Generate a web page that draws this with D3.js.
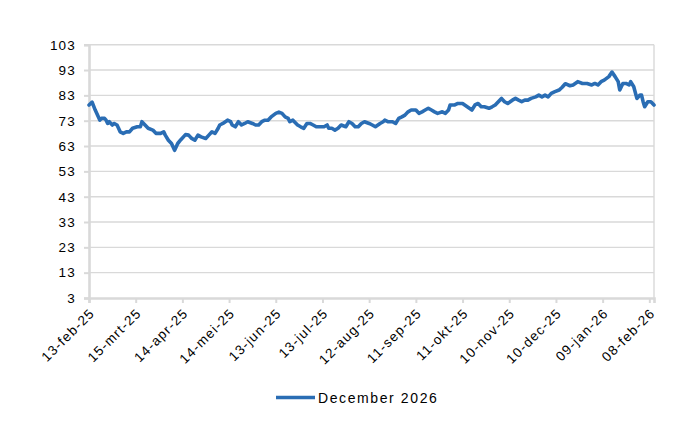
<!DOCTYPE html>
<html>
<head>
<meta charset="utf-8">
<script src="https://cdn.jsdelivr.net/npm/d3@7"></script>
<style>
  html, body { margin: 0; padding: 0; background: #fff; }
  svg text { font-family: "Liberation Sans", Arial, sans-serif; fill: #000; }
</style>
</head>
<body>
<svg id="chart" width="700" height="430"></svg>
<script>
const dates = ["2025-02-13","2025-02-15","2025-02-17","2025-02-20","2025-02-21","2025-02-23","2025-02-24","2025-02-25","2025-02-26","2025-02-28",
"2025-03-01","2025-03-03","2025-03-04","2025-03-05","2025-03-07","2025-03-09","2025-03-11","2025-03-13","2025-03-16","2025-03-18",
"2025-03-19","2025-03-21","2025-03-23","2025-03-26","2025-03-28","2025-03-31","2025-04-02","2025-04-03","2025-04-05","2025-04-07",
"2025-04-09","2025-04-11","2025-04-13","2025-04-16","2025-04-18","2025-04-20","2025-04-22","2025-04-24","2025-04-26","2025-04-29",
"2025-05-01","2025-05-03","2025-05-05","2025-05-07","2025-05-08","2025-05-10","2025-05-13","2025-05-15","2025-05-16","2025-05-18",
"2025-05-20","2025-05-22","2025-05-24","2025-05-26","2025-05-29","2025-05-31","2025-06-02","2025-06-04","2025-06-06","2025-06-08",
"2025-06-10","2025-06-13","2025-06-15","2025-06-17","2025-06-19","2025-06-21","2025-06-22","2025-06-24","2025-06-27","2025-06-29",
"2025-07-01","2025-07-03","2025-07-05","2025-07-07","2025-07-09","2025-07-11","2025-07-14","2025-07-16","2025-07-17","2025-07-19",
"2025-07-21","2025-07-23","2025-07-25","2025-07-28","2025-07-30","2025-08-01","2025-08-03","2025-08-05","2025-08-07","2025-08-09",
"2025-08-12","2025-08-14","2025-08-16","2025-08-19","2025-08-21","2025-08-22","2025-08-24","2025-08-27","2025-08-29","2025-08-31",
"2025-09-02","2025-09-04","2025-09-06","2025-09-08","2025-09-11","2025-09-13","2025-09-15","2025-09-17","2025-09-19","2025-09-21",
"2025-09-23","2025-09-25","2025-09-28","2025-09-30","2025-10-02","2025-10-03","2025-10-06","2025-10-08","2025-10-11","2025-10-14",
"2025-10-17","2025-10-19","2025-10-21","2025-10-23","2025-10-25","2025-10-28","2025-10-30","2025-11-01","2025-11-03","2025-11-05",
"2025-11-07","2025-11-09","2025-11-12","2025-11-14","2025-11-16","2025-11-18","2025-11-20","2025-11-22","2025-11-24","2025-11-27",
"2025-11-29","2025-12-01","2025-12-03","2025-12-05","2025-12-07","2025-12-09","2025-12-12","2025-12-14","2025-12-16","2025-12-19",
"2025-12-21","2025-12-24","2025-12-27","2025-12-30","2026-01-02","2026-01-04","2026-01-06","2026-01-08","2026-01-10","2026-01-13",
"2026-01-15","2026-01-17","2026-01-19","2026-01-20","2026-01-22","2026-01-24","2026-01-26","2026-01-27","2026-01-29","2026-01-31",
"2026-02-02","2026-02-03","2026-02-04","2026-02-05","2026-02-07","2026-02-09","2026-02-11"];

const values = [79.2,80.3,77.2,73.2,73.9,73.9,73.2,71.9,72.6,71.3,
71.9,71.3,70.0,68.6,68.0,68.6,68.6,70.0,70.6,70.6,
72.6,71.3,70.0,69.3,68.0,68.0,68.6,67.3,65.3,64.0,
61.3,64.0,65.5,67.5,67.3,66.0,65.3,67.3,66.6,66.0,
67.3,68.6,68.0,70.0,71.3,71.9,73.2,72.6,71.3,70.6,
72.6,71.3,71.9,72.6,71.9,71.3,71.3,72.6,73.2,73.2,
74.5,75.9,76.4,75.9,74.5,73.9,72.6,73.2,71.3,70.6,
70.0,71.9,71.9,71.3,70.6,70.6,70.6,71.3,70.0,70.0,
69.3,70.0,71.3,70.6,72.6,71.9,70.6,70.6,71.9,72.6,
71.9,71.3,70.6,71.9,72.6,73.2,72.6,72.6,71.9,73.9,
74.5,75.2,76.5,77.2,77.2,75.9,76.5,77.2,77.9,77.2,
76.5,75.9,76.5,75.9,77.2,79.2,79.2,79.8,79.8,78.5,
77.2,79.2,79.8,78.5,78.5,77.9,78.5,79.2,80.5,81.8,
80.5,79.8,81.1,81.8,81.1,80.5,81.1,81.1,81.8,82.4,
83.1,82.4,83.1,82.4,83.8,84.4,85.1,86.2,87.6,86.8,
87.1,88.4,87.7,87.7,87.1,87.7,87.1,88.4,89.0,90.4,
92.2,90.4,88.4,85.1,87.7,87.7,87.1,88.4,86.4,81.8,
83.1,83.1,80.5,78.5,80.5,80.5,79.2];

const seriesName = "December 2026";
const yTicks = [3,13,23,33,43,53,63,73,83,93,103];
const xTickDates = ["2025-02-13","2025-03-15","2025-04-14","2025-05-14","2025-06-13","2025-07-13","2025-08-12","2025-09-11","2025-10-11","2025-11-10","2025-12-10","2026-01-09","2026-02-08"];
const xTickLabels = ["13-feb-25","15-mrt-25","14-apr-25","14-mei-25","13-jun-25","13-jul-25","12-aug-25","11-sep-25","11-okt-25","10-nov-25","10-dec-25","09-jan-26","08-feb-26"];

const parse = d3.utcParse("%Y-%m-%d");
const data = dates.map((d, i) => ({ date: parse(d), value: values[i] }));

const plotL = 89, plotR = 654, plotT = 44.7, plotB = 298;
const svg = d3.select("#chart");

const x = d3.scaleUtc()
  .domain([parse("2025-02-13"), parse("2026-02-11")])
  .range([plotL, plotR]);
const y = d3.scaleLinear().domain([3, 103]).range([plotB, plotT]);

const grid = "#d9d9d9";

// horizontal gridlines
svg.append("g")
  .selectAll("line")
  .data(yTicks.filter(t => t !== 3))
  .join("line")
  .attr("x1", plotL).attr("x2", plotR)
  .attr("y1", d => y(d)).attr("y2", d => y(d))
  .attr("stroke", grid).attr("stroke-width", 1.4);

// right border
svg.append("line")
  .attr("x1", plotR).attr("x2", plotR)
  .attr("y1", y(103)).attr("y2", plotB)
  .attr("stroke", grid).attr("stroke-width", 1.4);

// y axis
const yAxis = d3.axisLeft(y).tickValues(yTicks).tickSize(5).tickPadding(8).tickFormat(d3.format("d"));
const gy = svg.append("g").attr("transform", `translate(${plotL},0)`).call(yAxis);
gy.select(".domain").attr("stroke", grid).attr("stroke-width", 2.6);
gy.selectAll(".tick line").attr("stroke", grid).attr("stroke-width", 2);
gy.selectAll(".tick text")
  .style("font-size", "13.5px").style("letter-spacing", "1.2px")
  .style("font-family", '"Liberation Sans", Arial, sans-serif').attr("fill", "#000");

// x axis
const labelMap = new Map(xTickDates.map((d, i) => [parse(d).getTime(), xTickLabels[i]]));
const xAxis = d3.axisBottom(x)
  .tickValues(xTickDates.map(parse))
  .tickSize(5)
  .tickFormat(d => labelMap.get(d.getTime()));
const gx = svg.append("g").attr("transform", `translate(0,${plotB})`).call(xAxis);
gx.select(".domain").attr("stroke", grid).attr("stroke-width", 2.6);
gx.selectAll(".tick line").attr("stroke", grid).attr("stroke-width", 2);
gx.selectAll(".tick text")
  .style("font-size", "13.5px").style("letter-spacing", "1.2px")
  .style("font-family", '"Liberation Sans", Arial, sans-serif').attr("fill", "#000")
  .attr("text-anchor", "end")
  .attr("dy", null)
  .attr("y", 0)
  .attr("transform", "translate(6,16) rotate(-45)");

// line
const line = d3.line().x(d => x(d.date)).y(d => y(d.value));
svg.append("path")
  .datum(data)
  .attr("d", line)
  .attr("fill", "none")
  .attr("stroke", "#2a6db4")
  .attr("stroke-width", 3.6)
  .attr("stroke-linejoin", "round")
  .attr("stroke-linecap", "round");

// legend
const lg = svg.append("g");
lg.append("line")
  .attr("x1", 276).attr("x2", 315)
  .attr("y1", 397.5).attr("y2", 397.5)
  .attr("stroke", "#2a6db4").attr("stroke-width", 3.5);
lg.append("text")
  .attr("x", 318).attr("y", 402.5)
  .style("font-size", "14px").style("letter-spacing", "1.6px")
  .text(seriesName);
</script>
</body>
</html>
